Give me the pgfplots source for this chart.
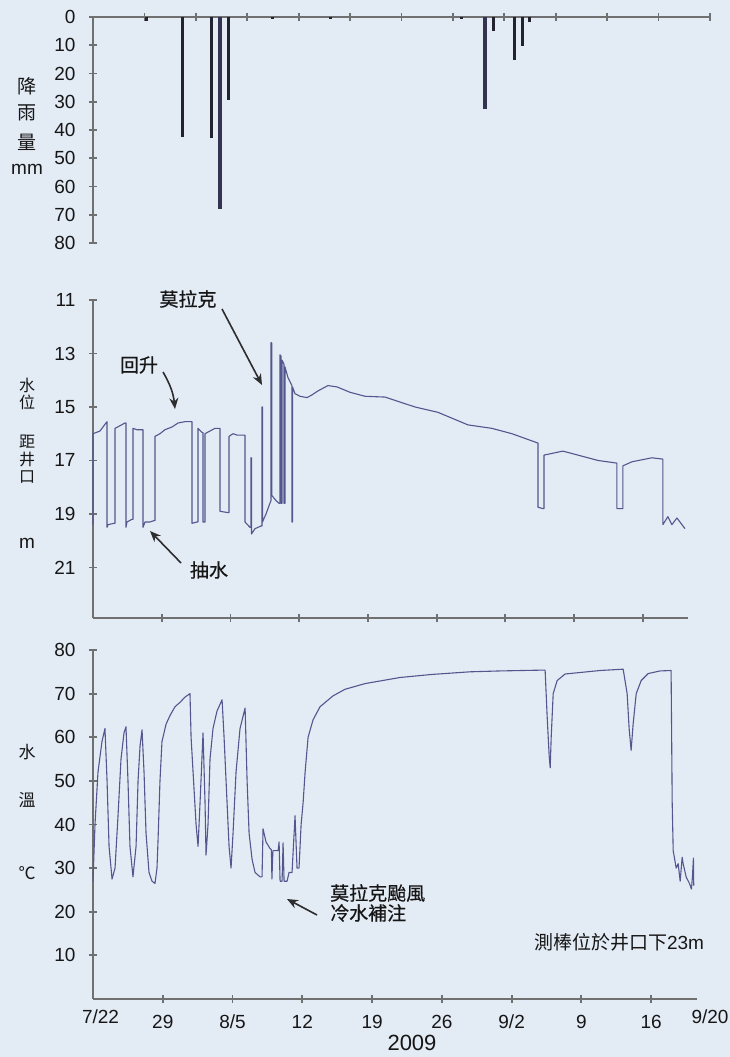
\documentclass[border=0pt]{standalone}
\usepackage{fontspec}
\setmainfont{Liberation Sans}
\newfontfamily\cjk{Noto Sans CJK TC}
\newfontfamily\cjkb{Noto Sans CJK TC}[FakeBold=0.5]
\usepackage{pgfplots}
\pgfplotsset{compat=1.18}
\usetikzlibrary{arrows.meta}
\definecolor{bg}{RGB}{227,235,245}
\definecolor{axgray}{RGB}{112,112,112}
\definecolor{wline}{RGB}{84,86,142}
\definecolor{rain}{RGB}{35,35,48}
\definecolor{txt}{RGB}{22,22,22}
\definecolor{arr}{RGB}{45,45,45}

\pgfplotsset{
  mystyle/.style={
    scale only axis, clip=false,
    tick style={draw=axgray, line width=1.8bp},
    major tick length=8bp, tick align=inside,
    ticklabel style={font=\fontsize{19bp}{22bp}\selectfont, text=txt},
    yticklabel style={xshift=-7bp},
    xticklabel style={text height=13.6bp, text depth=0pt, yshift=-5bp},
    /pgf/number format/assume math mode=true,
  },
  lines/.style={axis line style={draw=axgray, line width=2bp, -}},
}

\begin{document}
\fontsize{19bp}{22bp}\selectfont
\begin{tikzpicture}[x=1bp,y=1bp]
\fill[bg] (0,0) rectangle (730,1057);
\path[use as bounding box] (0,0) rectangle (730,1057);

% ---------------- rainfall ----------------
\begin{axis}[mystyle, at={(93bp,814bp)}, anchor=south west,
  width=617bp, height=226bp,
  xmin=0, xmax=60, ymin=0, ymax=80, y dir=reverse,
  axis y line=left, axis x line=top, lines,
  xtick={5,10,...,60}, xticklabels={},
  ytick={0,10,...,80}]
\addplot[ycomb, rain, line width=3bp] coordinates {
(5.25,1.5) (8.75,42.5) (11.57,43) (13.13,29.5) (17.41,0.6) (23.14,0.6)
(35.88,0.6) (38.90,5) (40.94,15.3) (41.72,10.3) (42.40,1.7)};
\addplot[ycomb, draw={rgb,255:red,52;green,52;blue,80}, line width=3.6bp] coordinates {
(12.35,68) (38.12,32.5)};
\end{axis}

% ---------------- water level ----------------
\begin{axis}[mystyle, at={(93bp,439bp)}, anchor=south west,
  width=595bp, height=318bp,
  xmin=0, xmax=60.6, ymin=11, ymax=22.89, y dir=reverse,
  axis y line=left, axis x line=bottom, lines,
  xtick={7,14,...,56}, xticklabels={},
  ytick={11,13,...,21}]
\addplot[wline, line width=1.1bp, line join=round] coordinates {
(0,19.4) (0,16.0) (0.71,15.9) (1.32,15.6) (1.43,15.55) (1.43,19.5) (1.53,19.4)
(2.14,19.35) (2.24,19.35) (2.24,15.8) (2.75,15.7) (3.26,15.6) (3.36,15.6)
(3.36,19.5) (3.46,19.3) (3.97,19.2) (4.07,19.2) (4.07,15.8) (4.48,15.85)
(4.99,15.85) (5.09,15.85) (5.09,19.5) (5.30,19.3) (5.80,19.3) (6.21,19.25)
(6.31,19.25) (6.31,16.1) (6.82,16.0) (7.33,15.85) (8.04,15.75) (8.66,15.6)
(9.37,15.55) (9.98,15.55) (10.08,15.55) (10.08,19.35) (10.59,19.3) (10.69,19.3)
(10.69,15.8) (11.10,15.95) (11.20,15.95) (11.20,19.3) (11.41,19.3) (11.41,16.0)
(11.91,15.9) (12.42,15.8) (12.83,15.8) (12.93,15.8) (12.93,18.9) (13.75,18.95)
(13.85,18.95) (13.85,16.1) (14.26,16.0) (14.66,16.05) (15.38,16.05) (15.48,16.05)
(15.48,19.3) (15.99,19.5) (16.09,19.5) (16.09,16.9) (16.14,16.9) (16.14,19.75)
(16.50,19.55) (17.11,19.45) (17.21,19.45) (17.21,15.0) (17.26,15.0) (17.26,19.3)
(17.62,19.0) (18.02,18.6) (18.13,18.5) (18.13,12.6) (18.20,12.6) (18.20,18.3)
(18.64,18.5) (18.94,18.6) (19.04,18.6) (19.04,13.05) (19.15,13.1) (19.15,18.6)
(19.25,18.6) (19.25,13.25) (19.45,13.4) (19.45,18.6) (19.55,18.6) (19.55,13.5)
(19.86,13.9) (20.26,14.2) (20.26,19.3) (20.32,19.3) (20.32,14.25) (20.57,14.5)
(21.08,14.6) (21.79,14.65) (22.30,14.55) (22.91,14.4) (23.93,14.2) (24.85,14.25)
(26.17,14.45) (27.70,14.6) (29.74,14.63) (32.79,15.0) (35.13,15.2) (38.19,15.67)
(40.63,15.8) (42.67,16.0) (45.32,16.35) (45.32,18.75) (45.82,18.8) (45.93,18.8)
(45.93,16.8) (47.86,16.65) (51.43,17.0) (53.36,17.1) (53.36,18.8) (53.97,18.8)
(53.97,17.2) (54.89,17.05) (56.92,16.9) (58.04,16.95) (58.04,19.4) (58.55,19.1)
(58.96,19.4) (59.47,19.15) (60.29,19.55)};
\end{axis}

% ---------------- water temperature ----------------
\begin{axis}[mystyle, at={(93bp,58bp)}, anchor=south west,
  width=604bp, height=349bp,
  xmin=0, xmax=60.6, ymin=0, ymax=80,
  axis lines=left, lines,
  xtick={7,14,...,56}, xticklabels={29,8/5,12,19,26,9/2,9,16},
  ytick={10,20,...,80}]
\addplot[wline, line width=1.1bp, line join=round] coordinates {
(0,27) (0.20,40) (0.50,52) (0.90,59) (1.20,62) (1.41,50) (1.61,35) (1.91,27.5)
(2.21,30) (2.51,42) (2.81,55) (3.11,61) (3.31,62.4) (3.51,50) (3.71,35) (4.01,28)
(4.32,35) (4.52,50) (4.72,58) (4.92,61.7) (5.12,52) (5.32,38) (5.62,29) (5.92,27)
(6.22,26.5) (6.42,30) (6.52,36) (6.72,50) (6.92,59) (7.33,63) (7.73,65) (8.23,67)
(8.73,68) (9.23,69.2) (9.73,70) (9.84,60) (10.04,52) (10.34,40) (10.54,35)
(10.74,45) (11.04,61) (11.24,45) (11.34,33) (11.54,40) (11.74,55) (12.04,62)
(12.44,66) (12.95,68.6) (13.15,60) (13.45,45) (13.65,35) (13.85,30) (14.05,38)
(14.35,52) (14.75,62) (15.26,66.7) (15.46,50) (15.66,38) (15.96,32) (16.26,29)
(16.76,28) (16.96,28) (17.06,39) (17.36,36) (17.76,34.5) (17.90,34.2) (17.95,27.5)
(18.05,34) (18.57,34) (18.67,36) (18.77,27) (18.97,27) (19.07,35.8) (19.17,27)
(19.47,27) (19.67,29) (19.97,29) (20.27,42) (20.47,30) (20.67,30) (20.88,40)
(21.08,45) (21.28,52) (21.58,60) (22.08,64) (22.78,67) (24.09,69.5) (25.29,71)
(27.30,72.3) (30.81,73.7) (34.02,74.4) (37.84,75) (40.85,75.2) (45.36,75.4)
(45.56,65) (45.76,56) (45.87,53) (45.97,60) (46.17,70) (46.57,73) (47.37,74.5)
(50.88,75.3) (53.19,75.6) (53.59,70) (53.79,62) (53.99,57) (54.19,63) (54.50,70)
(55.00,73) (55.70,74.6) (56.90,75.2) (58.00,75.3) (58.11,45) (58.21,34) (58.51,30)
(58.71,31) (58.91,27) (59.11,32.5) (59.21,31) (59.51,28) (59.84,26.5) (60.04,25.2)
(60.14,28) (60.24,32.3) (60.27,26)};
\end{axis}

% ---------------- labels ----------------
\begin{scope}[every node/.style={text=txt, inner sep=0pt}]
\node at (27,971) {\cjk 降};
\node at (27,944) {\cjk 雨};
\node at (27,915) {\cjk 量};
\node at (27,888) {mm};
\node[font=\fontsize{16bp}{17bp}\selectfont] at (27,672) {\cjk 水};
\node[font=\fontsize{16bp}{17bp}\selectfont] at (27,655) {\cjk 位};
\node[font=\fontsize{16bp}{17bp}\selectfont] at (27,615) {\cjk 距};
\node[font=\fontsize{16bp}{17bp}\selectfont] at (27,597) {\cjk 井};
\node[font=\fontsize{16bp}{17bp}\selectfont] at (27,580) {\cjk 口};
\node at (27,514) {m};
\node[font=\fontsize{17bp}{17bp}\selectfont] at (27,305) {\cjk 水};
\node[font=\fontsize{17bp}{17bp}\selectfont] at (27,257) {\cjk 溫};
\node[font=\fontsize{17bp}{17bp}\selectfont] at (27,184) {\cjk ℃};

\node at (100.5,40) {7/22};
\node at (710,40) {9/20};
\node[font=\fontsize{22bp}{24bp}\selectfont] at (412,14) {2009};

\node at (188,758) {\cjkb 莫拉克};
\node at (139,692) {\cjkb 回升};
\node at (209,487) {\cjkb 抽水};
\node[anchor=west] at (330,164) {\cjkb 莫拉克颱風};
\node[anchor=west] at (330,144) {\cjkb 冷水補注};
\node at (619,115) {\cjk 測棒位於井口下\fontspec{Liberation Sans}23m};
\end{scope}

\begin{scope}[draw=arr, line width=1.6bp, -{Stealth[length=11bp,width=9bp]}]
\draw (222,748) -- (262,672);
\draw (163,685) to[bend left=12] (175,648);
\draw (181,494) -- (150,526);
\draw (317,142) -- (287,158);
\end{scope}
\end{tikzpicture}
\end{document}
